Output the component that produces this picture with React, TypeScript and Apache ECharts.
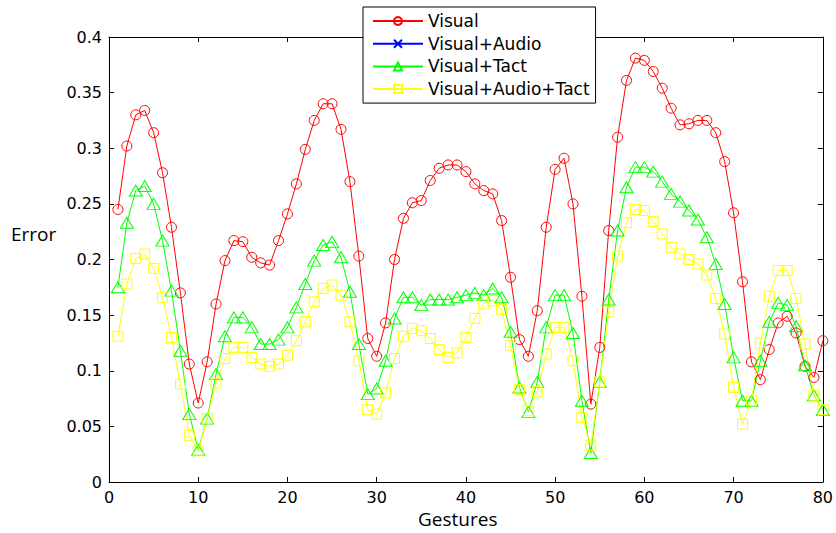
import React, { useEffect, useRef } from "react";
import * as echarts from "echarts";

const gestures = [
  1, 2, 3, 4, 5, 6, 7, 8, 9, 10, 11, 12, 13, 14, 15, 16, 17, 18, 19, 20,
  21, 22, 23, 24, 25, 26, 27, 28, 29, 30, 31, 32, 33, 34, 35, 36, 37, 38, 39, 40,
  41, 42, 43, 44, 45, 46, 47, 48, 49, 50, 51, 52, 53, 54, 55, 56, 57, 58, 59, 60,
  61, 62, 63, 64, 65, 66, 67, 68, 69, 70, 71, 72, 73, 74, 75, 76, 77, 78, 79, 80,
];

const visual = [
  0.245, 0.302, 0.330, 0.334, 0.314, 0.278, 0.229, 0.170, 0.106, 0.071,
  0.108, 0.160, 0.199, 0.217, 0.216, 0.202, 0.197, 0.195, 0.217, 0.241,
  0.268, 0.299, 0.325, 0.340, 0.340, 0.317, 0.270, 0.203, 0.129, 0.113,
  0.143, 0.200, 0.237, 0.251, 0.253, 0.271, 0.282, 0.285, 0.285, 0.279,
  0.268, 0.262, 0.259, 0.235, 0.184, 0.128, 0.113, 0.154, 0.229, 0.281,
  0.291, 0.250, 0.167, 0.070, 0.121, 0.226, 0.310, 0.361, 0.381, 0.379,
  0.369, 0.354, 0.336, 0.321, 0.322, 0.325, 0.325, 0.314, 0.288, 0.242,
  0.180, 0.108, 0.092, 0.119, 0.143, 0.149, 0.134, 0.104, 0.094, 0.127,
];

// Visual+Audio: listed in the legend but no marks are visible in the plot
const visualAudio: number[] = [];

const visualTact = [
  0.175, 0.233, 0.262, 0.266, 0.250, 0.217, 0.172, 0.118, 0.061, 0.029,
  0.057, 0.097, 0.131, 0.148, 0.148, 0.139, 0.124, 0.124, 0.128, 0.139,
  0.157, 0.178, 0.199, 0.213, 0.216, 0.202, 0.171, 0.124, 0.079, 0.084,
  0.109, 0.147, 0.166, 0.166, 0.159, 0.164, 0.164, 0.164, 0.166, 0.168,
  0.170, 0.168, 0.174, 0.166, 0.135, 0.085, 0.063, 0.090, 0.139, 0.168,
  0.168, 0.134, 0.073, 0.026, 0.090, 0.164, 0.226, 0.265, 0.283, 0.283,
  0.279, 0.270, 0.259, 0.252, 0.244, 0.236, 0.220, 0.196, 0.160, 0.112,
  0.073, 0.073, 0.109, 0.144, 0.161, 0.159, 0.140, 0.105, 0.078, 0.065,
];

const visualAudioTact = [
  0.131, 0.178, 0.201, 0.205, 0.192, 0.166, 0.130, 0.088, 0.042, 0.028,
  0.057, 0.089, 0.111, 0.121, 0.121, 0.112, 0.106, 0.104, 0.106, 0.114,
  0.127, 0.144, 0.162, 0.174, 0.177, 0.168, 0.144, 0.109, 0.065, 0.061,
  0.080, 0.111, 0.131, 0.138, 0.136, 0.129, 0.119, 0.112, 0.116, 0.130,
  0.147, 0.160, 0.163, 0.155, 0.123, 0.083, 0.064, 0.081, 0.115, 0.139,
  0.139, 0.109, 0.058, 0.033, 0.090, 0.153, 0.203, 0.233, 0.245, 0.244,
  0.234, 0.223, 0.211, 0.205, 0.200, 0.196, 0.186, 0.165, 0.133, 0.085,
  0.052, 0.073, 0.125, 0.167, 0.190, 0.190, 0.165, 0.124, 0.078, 0.065,
];

const seriesNames = ["Visual", "Visual+Audio", "Visual+Tact", "Visual+Audio+Tact"];
const xTicks = { min: 0, max: 80, interval: 10 };
const yTicks = { min: 0, max: 0.4, interval: 0.05 };

const tickFont = "DejaVu Sans";

export default function App() {
  const ref = useRef<HTMLDivElement>(null);

  useEffect(() => {
    if (!ref.current) return;
    const chart = echarts.init(ref.current, null, { renderer: "svg" });

    const pairs = (vals: number[]) => vals.map((v, i) => [gestures[i], v]);

    const baseX = {
      type: "value" as const,
      min: xTicks.min,
      max: xTicks.max,
      interval: xTicks.interval,
      splitLine: { show: false },
      axisLine: { show: true, onZero: false, lineStyle: { color: "#000", width: 1 } },
      axisTick: { show: true, inside: true, length: 5, lineStyle: { color: "#000" } },
    };
    const baseY = {
      type: "value" as const,
      min: yTicks.min,
      max: yTicks.max,
      interval: yTicks.interval,
      splitLine: { show: false },
      axisLine: { show: true, onZero: false, lineStyle: { color: "#000", width: 1 } },
      axisTick: { show: true, inside: true, length: 5, lineStyle: { color: "#000" } },
    };

    const mk = (
      name: string,
      data: number[],
      color: string,
      symbol: string,
      symbolSize: number | number[]
    ) => ({
      name,
      type: "line",
      data: pairs(data),
      xAxisIndex: 0,
      yAxisIndex: 0,
      symbol,
      symbolSize,
      showAllSymbol: true,
      lineStyle: { color, width: 1 },
      itemStyle: { color: "rgba(0,0,0,0)", borderColor: color, borderWidth: 1 },
      emphasis: { disabled: true },
    });

    chart.setOption({
      animation: false,
      backgroundColor: "#fff",
      grid: { left: 109, right: 12.5, top: 37, bottom: 51, containLabel: false },
      xAxis: [
        {
          ...baseX,
          position: "bottom",
          axisLabel: { show: true, color: "#000", fontFamily: tickFont, fontSize: 16, margin: 7 },
        },
        { ...baseX, position: "top", axisLabel: { show: false } },
      ],
      yAxis: [
        {
          ...baseY,
          position: "left",
          axisLabel: { show: true, color: "#000", fontFamily: tickFont, fontSize: 16, margin: 7 },
        },
        { ...baseY, position: "right", axisLabel: { show: false } },
      ],
      legend: {
        data: seriesNames,
        orient: "vertical",
        left: 363,
        top: 7,
        backgroundColor: "#fff",
        borderColor: "#000",
        borderWidth: 1,
        padding: [5, 6, 5, 9],
        itemWidth: 50,
        itemHeight: 10,
        itemGap: 4.7,
        selectedMode: false,
        textStyle: { color: "#000", fontFamily: tickFont, fontSize: 17, lineHeight: 18 },
      },
      graphic: [
        {
          type: "text",
          left: 11,
          top: 224,
          style: { text: "Error", fill: "#000", font: "19px 'Open Sans'" },
        },
        {
          type: "text",
          left: 418,
          top: 509,
          style: { text: "Gestures", fill: "#000", font: "19px 'Open Sans'" },
        },
      ],
      series: [
        mk(seriesNames[0], visual, "#ff0000", "circle", 10),
        mk(seriesNames[1], visualAudio, "#0000ff", "path://M0,0L10,10M10,0L0,10", 5),
        mk(seriesNames[2], visualTact, "#00ff00", "triangle", [13, 11]),
        mk(seriesNames[3], visualAudioTact, "#ffff00", "rect", 10),
      ],
    });

    return () => chart.dispose();
  }, []);

  return <div ref={ref} style={{ width: 836, height: 533, position: "absolute", left: 0, top: 0 }} />;
}
